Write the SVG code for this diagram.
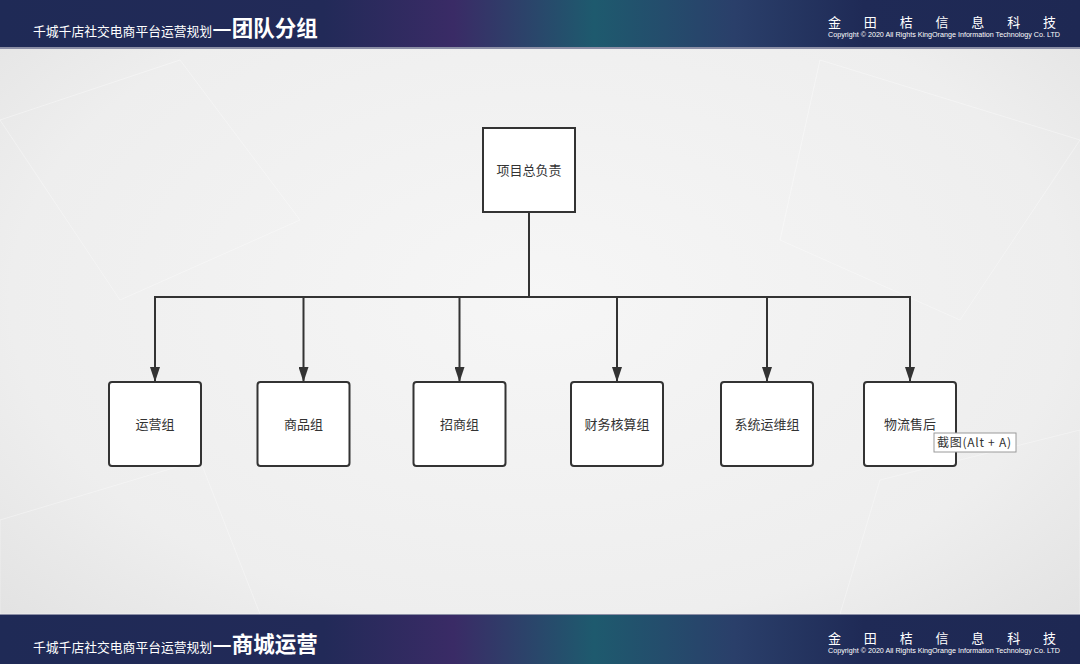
<svg xmlns="http://www.w3.org/2000/svg" width="1080" height="664" viewBox="0 0 1080 664">
<defs>
<radialGradient id="bg" cx="50%" cy="45%" r="70%">
<stop offset="0" stop-color="#f6f6f6"/>
<stop offset="0.7" stop-color="#eeeeee"/>
<stop offset="1" stop-color="#e2e2e2"/>
</radialGradient>
<linearGradient id="band" x1="0" y1="0" x2="1" y2="0">
<stop offset="0" stop-color="#1f2a56"/>
<stop offset="0.3" stop-color="#222a58"/>
<stop offset="0.42" stop-color="#3a2b66"/>
<stop offset="0.55" stop-color="#1e5a6e"/>
<stop offset="0.68" stop-color="#2a3f6a"/>
<stop offset="0.8" stop-color="#1f2a56"/>
<stop offset="1" stop-color="#1e2853"/>
</linearGradient>
<marker id="arr" markerWidth="15" markerHeight="10" refX="15" refY="5" orient="auto" markerUnits="userSpaceOnUse" viewBox="0 0 15 10">
<path d="M0,0 L15,5 L0,10 z" fill="#333333"/>
</marker>
<style>
.box{fill:#ffffff;stroke:#333333;stroke-width:2}
.lbl{font-family:"Noto Sans CJK SC","Liberation Sans",sans-serif;font-size:13px;fill:#333333;text-anchor:middle}
.line{fill:none;stroke:#333333;stroke-width:2}
.t1{font-family:"Noto Sans CJK SC",sans-serif;font-size:12.8px;fill:#ffffff}
.t2{font-family:"Noto Sans CJK SC",sans-serif;font-size:21.5px;font-weight:bold;fill:#ffffff}
.co{font-family:"Noto Sans CJK SC",sans-serif;font-size:13px;fill:#ffffff}
.cp{font-family:"Liberation Sans",sans-serif;font-size:6.5px;fill:#ffffff}
</style>
</defs>
<rect x="0" y="0" width="1080" height="664" fill="url(#bg)"/>
<g opacity="0.35" fill="none" stroke="#ffffff" stroke-width="1">
<path d="M0,120 L180,60 L300,220 L120,300 Z"/>
<path d="M820,60 L1080,140 L960,320 L780,240 Z"/>
<path d="M0,520 L200,460 L260,614 L0,614 Z"/>
<path d="M880,480 L1080,430 L1080,614 L840,614 Z"/>
</g>
<g id="header">
<rect x="0" y="0" width="1080" height="48" fill="url(#band)"/>
<rect x="0" y="47" width="1080" height="2" fill="#8c8fa6"/>
<text x="33" y="36" class="t1">千城千店社交电商平台运营规划<tspan class="t2">—团队分组</tspan></text>
<text x="828" y="27" class="co" textLength="228" lengthAdjust="spacing">金　田　桔　信　息　科　技</text>
<text x="828" y="37" class="cp" textLength="232" lengthAdjust="spacingAndGlyphs">Copyright © 2020 All Rights KingOrange Information Technology Co. LTD</text>
</g>
<g id="footer">
<rect x="0" y="615" width="1080" height="49" fill="url(#band)"/>
<rect x="0" y="614" width="1080" height="1" fill="#8c8fa6"/>
<text x="33" y="652" class="t1">千城千店社交电商平台运营规划<tspan class="t2">—商城运营</tspan></text>
<text x="828" y="643" class="co" textLength="228" lengthAdjust="spacing">金　田　桔　信　息　科　技</text>
<text x="828" y="653" class="cp" textLength="232" lengthAdjust="spacingAndGlyphs">Copyright © 2020 All Rights KingOrange Information Technology Co. LTD</text>
</g>
<g id="connectors">
<path class="line" d="M529,212 L529,297"/>
<path class="line" d="M155,297 L910,297"/>
<path class="line" d="M155,296 L155,382" marker-end="url(#arr)"/>
<path class="line" d="M303.5,297 L303.5,382" marker-end="url(#arr)"/>
<path class="line" d="M459.5,297 L459.5,382" marker-end="url(#arr)"/>
<path class="line" d="M617,297 L617,382" marker-end="url(#arr)"/>
<path class="line" d="M767,297 L767,382" marker-end="url(#arr)"/>
<path class="line" d="M910,296 L910,382" marker-end="url(#arr)"/>
</g>
<g id="n-top">
<rect class="box" x="483" y="128" width="92" height="84"/>
<text class="lbl" x="529" y="175">项目总负责</text>
</g>
<g id="n1">
<rect class="box" x="109" y="382" width="92" height="84" rx="3"/>
<text class="lbl" x="155" y="429">运营组</text>
</g>
<g id="n2">
<rect class="box" x="257.5" y="382" width="92" height="84" rx="3"/>
<text class="lbl" x="303.5" y="429">商品组</text>
</g>
<g id="n3">
<rect class="box" x="413.5" y="382" width="92" height="84" rx="3"/>
<text class="lbl" x="459.5" y="429">招商组</text>
</g>
<g id="n4">
<rect class="box" x="571" y="382" width="92" height="84" rx="3"/>
<text class="lbl" x="617" y="429">财务核算组</text>
</g>
<g id="n5">
<rect class="box" x="721" y="382" width="92" height="84" rx="3"/>
<text class="lbl" x="767" y="429">系统运维组</text>
</g>
<g id="n6">
<rect class="box" x="864" y="382" width="92" height="84" rx="3"/>
<text class="lbl" x="910" y="429">物流售后</text>
</g>
<g id="tooltip">
<rect x="934" y="433" width="82" height="19" fill="#ffffff" stroke="#9a9a9a" stroke-width="1"/>
<text x="937" y="447" font-family="Noto Sans CJK SC, Liberation Sans, sans-serif" font-size="12" fill="#333333" textLength="74" lengthAdjust="spacing">截图(Alt + A)</text>
</g>
</svg>
